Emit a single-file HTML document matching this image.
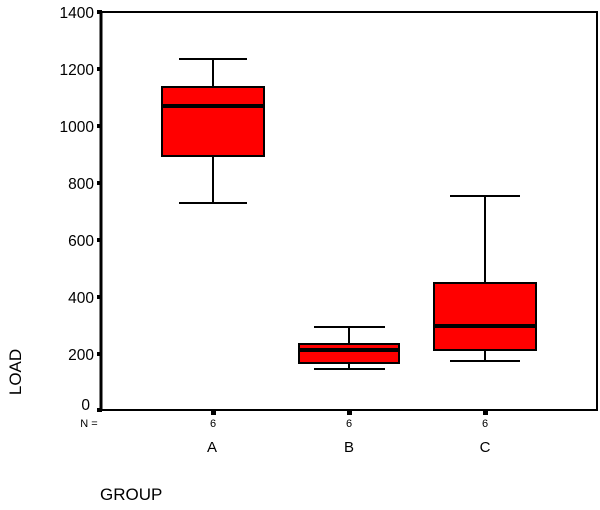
<!DOCTYPE html>
<html><head><style>body{margin:0;background:#fff}</style></head><body>
<svg width="600" height="505" xmlns="http://www.w3.org/2000/svg" font-family="Liberation Sans, Arial, sans-serif">
<rect width="600" height="505" fill="#fff"/>
<path d="M101,12 H597 V410 H101 Z" fill="none" stroke="#000" stroke-width="2"/>
<line x1="101" y1="11" x2="101" y2="411" stroke="#000" stroke-width="3"/>
<g fill="#000">
<rect x="97" y="10" width="5" height="4"/><rect x="97" y="67" width="5" height="4"/><rect x="97" y="124" width="5" height="4"/><rect x="97" y="181" width="5" height="4"/><rect x="97" y="238" width="5" height="4"/><rect x="97" y="295" width="5" height="4"/><rect x="97" y="352" width="5" height="4"/><rect x="97" y="408" width="5" height="4"/>
<rect x="211" y="410" width="5" height="5"/><rect x="347" y="410" width="5" height="5"/><rect x="483" y="410" width="5" height="5"/>
</g>
<g font-size="15.5" text-anchor="end" fill="#000">
<text x="94" y="18">1400</text><text x="94" y="75">1200</text><text x="94" y="132">1000</text><text x="94" y="189">800</text><text x="94" y="246">600</text><text x="94" y="303">400</text><text x="94" y="360">200</text><text x="90" y="410">0</text>
</g>
<g font-size="11" fill="#000" text-anchor="middle">
<text x="89" y="427">N =</text><text x="213" y="427">6</text><text x="349" y="427">6</text><text x="485" y="427">6</text>
</g>
<g font-size="15" fill="#000" text-anchor="middle">
<text x="212" y="452">A</text><text x="349" y="452">B</text><text x="485" y="452">C</text>
</g>
<text x="100" y="500" font-size="17">GROUP</text>
<text transform="translate(21,372) rotate(-90)" font-size="17" text-anchor="middle">LOAD</text>
<g stroke="#000" stroke-width="2" fill="#f00">
<line x1="213" y1="59" x2="213" y2="203"/><line x1="179" y1="59" x2="247" y2="59"/><line x1="179" y1="203" x2="247" y2="203"/>
<rect x="162" y="87" width="102" height="69"/>
<line x1="349" y1="327" x2="349" y2="369"/><line x1="314" y1="327" x2="385" y2="327"/><line x1="314" y1="369" x2="385" y2="369"/>
<rect x="299" y="344" width="100" height="19"/>
<line x1="485" y1="196" x2="485" y2="361"/><line x1="450" y1="196" x2="520" y2="196"/><line x1="450" y1="361" x2="520" y2="361"/>
<rect x="434" y="283" width="102" height="67"/>
</g>
<g stroke="#000" stroke-width="4">
<line x1="162" y1="106" x2="264" y2="106"/><line x1="299" y1="350" x2="399" y2="350"/><line x1="434" y1="326" x2="536" y2="326"/>
</g>
</svg>
</body></html>
